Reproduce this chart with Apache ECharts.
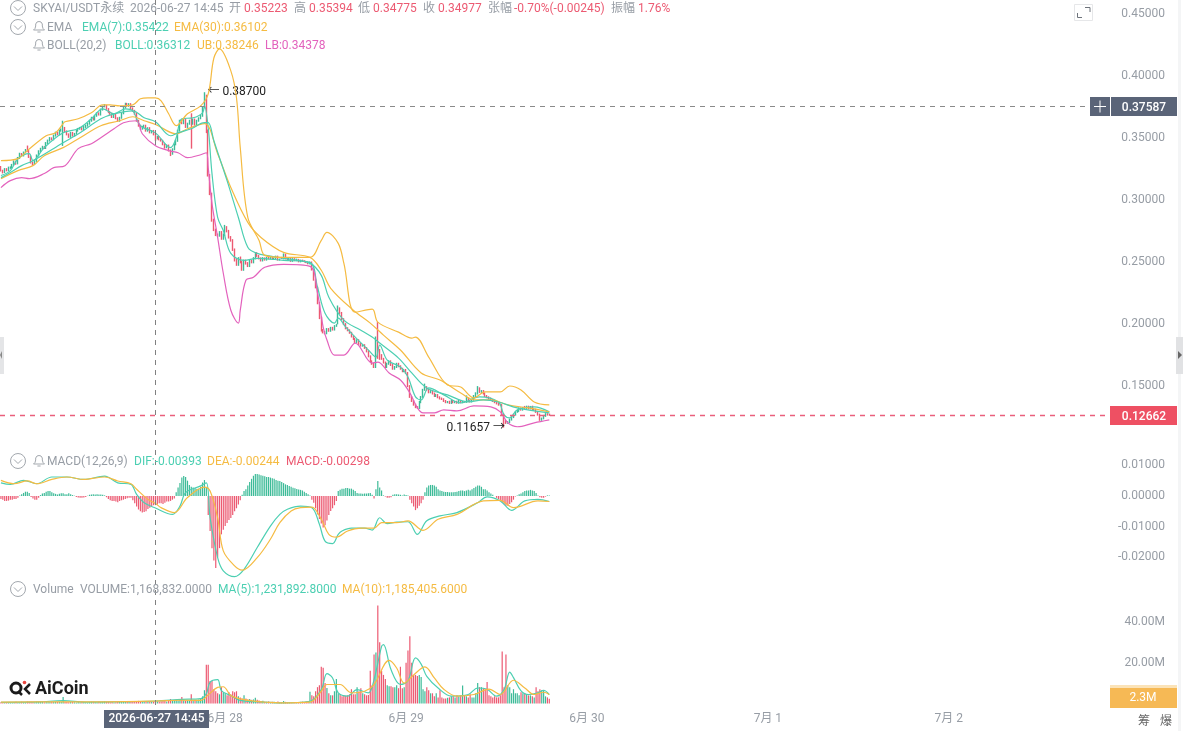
<!DOCTYPE html>
<html>
<head>
<meta charset="utf-8">
<style>html,body{margin:0;padding:0;background:#fff}#kline{width:1187px;height:731px}</style>
<script src="https://cdn.jsdelivr.net/npm/echarts@6/dist/echarts.min.js"></script>
</head>
<body>
<div id="kline"></div>
<script>
// SKYAI/USDT perpetual, 15-minute candles with EMA, BOLL, MACD and volume panes.
const opens = [
.3265,.3238,.3225,.3250,.3240,.3262,.3262,.3285,.3310,.3295,
.3340,.3374,.3360,.3385,.3405,.3399,.3350,.3302,.3290,.3315,
.3360,.3395,.3415,.3430,.3420,.3460,.3479,.3500,.3490,.3520,
.3545,.3530,.3560,.3570,.3583,.3555,.3530,.3510,.3543,.3520,
.3535,.3560,.3575,.3583,.3570,.3590,.3600,.3615,.3640,.3664,
.3650,.3680,.3700,.3690,.3730,.3755,.3760,.3735,.3710,.3696,
.3670,.3690,.3660,.3640,.3664,.3700,.3745,.3776,.3760,.3775,
.3740,.3720,.3696,.3640,.3600,.3575,.3590,.3600,.3560,.3580,
.3545,.3559,.35223,.3498,.3510,.3490,.3479,.3450,.3425,.3440,
.3400,.3374,.3410,.3450,.3479,.3560,.3640,.3620,.3650,.3590,
.3616,.3650,.3616,.3650,.3610,.3640,.3660,.3680,.3750,.3841,
.3560,.3198,.3050,.2836,.2760,.2720,.2715,.2740,.2690,.2720,
.2779,.2750,.2700,.2675,.2600,.2514,.2480,.2530,.2498,.2440,
.2510,.2490,.2470,.2510,.2498,.2530,.2570,.2550,.2530,.2514,
.2530,.2520,.2535,.2530,.2540,.2525,.2530,.2545,.2520,.2535,
.2530,.2560,.2530,.2520,.2530,.2510,.2525,.2515,.2520,.2505,
.2514,.2510,.2505,.2500,.2490,.2498,.2440,.2360,.2297,.2170,
.2050,.1951,.1935,.1927,.1960,.1945,.1970,.1955,.1985,.2008,
.2128,.2090,.2040,.2000,.1967,.1950,.1930,.1900,.1880,.1855,
.1870,.1840,.1825,.1830,.1807,.1780,.1740,.1700,.1680,.1654,
.1871,.1790,.1750,.1720,.1690,.1654,.1680,.1700,.1670,.1640,
.1654,.1680,.1660,.1640,.1620,.1630,.1606,.1500,.1413,.1380,
.1350,.1330,.1324,.1370,.1413,.1470,.1493,.1470,.1450,.1460,
.1440,.1420,.1429,.1410,.1400,.1395,.1380,.1370,.1375,.1364,
.1380,.1370,.1375,.1365,.1380,.1370,.1375,.1372,.1400,.1380,
.1375,.1390,.1420,.1440,.1480,.1453,.1460,.1440,.1420,.1410,
.1400,.1389,.1380,.1370,.1360,.1350,.1348,.1270,.1220,.1204,
.1210,.1230,.1250,.1270,.1292,.1300,.1320,.1310,.1325,.1324,
.1335,.1320,.1335,.1310,.1310,.1292,.1270,.1228,.1240,.1260,.1275,.1270];
const closes = [
.3238,.3225,.3250,.3240,.3262,.3262,.3285,.3310,.3295,.3340,
.3374,.3360,.3385,.3405,.3399,.3350,.3302,.3290,.3315,.3360,
.3395,.3415,.3430,.3420,.3460,.3479,.3500,.3490,.3520,.3545,
.3530,.3560,.3570,.3583,.3555,.3530,.3510,.3543,.3520,.3535,
.3560,.3575,.3583,.3570,.3590,.3600,.3615,.3640,.3664,.3650,
.3680,.3700,.3690,.3730,.3755,.3760,.3735,.3710,.3696,.3670,
.3690,.3660,.3640,.3664,.3700,.3745,.3776,.3760,.3775,.3740,
.3720,.3696,.3640,.3600,.3575,.3590,.3600,.3560,.3580,.3545,
.3559,.3530,.34977,.3510,.3490,.3479,.3450,.3425,.3440,.3400,
.3374,.3410,.3450,.3479,.3560,.3640,.3620,.3650,.3590,.3616,
.3640,.3616,.3650,.3610,.3640,.3660,.3680,.3750,.3841,.3560,
.3198,.3050,.2836,.2760,.2720,.2715,.2740,.2690,.2720,.2779,
.2750,.2700,.2675,.2600,.2514,.2480,.2530,.2498,.2440,.2510,
.2490,.2470,.2510,.2498,.2530,.2570,.2550,.2530,.2514,.2530,
.2520,.2535,.2530,.2540,.2525,.2530,.2545,.2520,.2535,.2530,
.2560,.2530,.2520,.2530,.2510,.2525,.2515,.2520,.2505,.2514,
.2510,.2505,.2500,.2490,.2498,.2440,.2360,.2297,.2170,.2050,
.1951,.1935,.1927,.1960,.1945,.1970,.1955,.1985,.2008,.2128,
.2090,.2040,.2000,.1967,.1950,.1930,.1900,.1880,.1855,.1870,
.1840,.1825,.1830,.1807,.1780,.1740,.1700,.1680,.1654,.1871,
.1790,.1750,.1720,.1690,.1654,.1680,.1700,.1670,.1640,.1654,
.1680,.1660,.1640,.1620,.1630,.1606,.1500,.1413,.1380,.1350,
.1330,.1324,.1370,.1413,.1470,.1493,.1470,.1450,.1460,.1440,
.1420,.1429,.1410,.1400,.1395,.1380,.1370,.1375,.1364,.1380,
.1370,.1375,.1365,.1380,.1370,.1375,.1372,.1400,.1380,.1375,
.1390,.1420,.1440,.1480,.1453,.1460,.1440,.1420,.1410,.1400,
.1389,.1380,.1370,.1360,.1350,.1348,.1270,.1220,.1204,.1210,
.1230,.1250,.1270,.1292,.1300,.1320,.1310,.1325,.1324,.1335,
.1320,.1335,.1310,.1310,.1292,.1270,.1228,.1240,.1260,.1275,.1270,.12662];
const highs = [
.3275,.3245,.3258,.3258,.3270,.3272,.3292,.3320,.3318,.3348,
.3382,.3380,.3392,.3412,.3440,.3405,.3358,.3310,.3322,.3368,
.3402,.3422,.3438,.3436,.3468,.3488,.3508,.3506,.3528,.3552,
.3552,.3568,.3578,.3640,.3590,.3562,.3538,.3550,.3550,.3542,
.3568,.3582,.3590,.3590,.3598,.3608,.3622,.3648,.3672,.3672,
.3688,.3708,.3708,.3738,.3762,.3775,.3768,.3742,.3718,.3704,
.3698,.3698,.3668,.3672,.3708,.3752,.3785,.3784,.3782,.3782,
.3748,.3728,.3704,.3648,.3608,.3598,.3608,.3608,.3588,.3588,
.3565,.3566,.35394,.3518,.3518,.3498,.3486,.3458,.3448,.3448,
.3408,.3418,.3458,.3486,.3568,.3648,.3650,.3658,.3658,.3624,
.3648,.3700,.3658,.3658,.3648,.3668,.3688,.3758,.3870,.3850,
.3570,.3210,.3060,.2850,.2770,.2730,.2750,.2750,.2730,.2800,
.2790,.2760,.2710,.2685,.2610,.2525,.2540,.2545,.2510,.2520,
.2520,.2500,.2520,.2520,.2540,.2580,.2580,.2558,.2538,.2540,
.2538,.2542,.2542,.2548,.2548,.2535,.2552,.2552,.2528,.2542,
.2570,.2568,.2538,.2536,.2536,.2532,.2532,.2528,.2526,.2520,
.2520,.2515,.2510,.2505,.2505,.2505,.2445,.2365,.2302,.2178,
.2060,.1960,.1945,.1968,.1968,.1978,.1978,.1992,.2000,.2150,
.2135,.2098,.2048,.2008,.1975,.1958,.1938,.1908,.1888,.1878,
.1878,.1848,.1838,.1838,.1815,.1788,.1748,.1708,.1688,.1900,
.2016,.1800,.1758,.1728,.1698,.1688,.1708,.1708,.1678,.1662,
.1688,.1688,.1668,.1648,.1638,.1638,.1614,.1508,.1420,.1388,
.1358,.1338,.1380,.1420,.1478,.1520,.1500,.1478,.1468,.1468,
.1448,.1436,.1436,.1418,.1408,.1402,.1388,.1380,.1382,.1388,
.1388,.1380,.1382,.1388,.1388,.1380,.1380,.1425,.1408,.1388,
.1398,.1428,.1450,.1500,.1490,.1468,.1468,.1448,.1428,.1418,
.1408,.1396,.1388,.1378,.1368,.1358,.1355,.1280,.1228,.1218,
.1238,.1258,.1278,.1298,.1308,.1328,.1328,.1332,.1340,.1342,
.1342,.1340,.1342,.1320,.1318,.1300,.1278,.1246,.1268,.1282,.1282,.1278];
const lows = [
.3230,.3215,.3218,.3232,.3232,.3252,.3255,.3278,.3285,.3288,
.3332,.3352,.3352,.3378,.3390,.3340,.3295,.3280,.3282,.3308,
.3352,.3388,.3408,.3412,.3412,.3452,.3472,.3482,.3482,.3512,
.3522,.3522,.3552,.3437,.3548,.3522,.3502,.3502,.3512,.3512,
.3528,.3552,.3568,.3562,.3562,.3582,.3592,.3608,.3632,.3642,
.3642,.3672,.3682,.3682,.3722,.3748,.3728,.3702,.3688,.3662,
.3662,.3652,.3632,.3632,.3656,.3692,.3738,.3752,.3752,.3732,
.3712,.3688,.3632,.3592,.3565,.3568,.3582,.3552,.3552,.3538,
.3538,.3522,.34775,.3490,.3482,.3472,.3442,.3415,.3418,.3392,
.3355,.3366,.3402,.3442,.3470,.3552,.3612,.3612,.3582,.3582,
.3608,.3415,.3608,.3600,.3602,.3632,.3652,.3672,.3740,.3540,
.3190,.3040,.2826,.2750,.2710,.2705,.2705,.2680,.2680,.2710,
.2740,.2690,.2665,.2590,.2505,.2470,.2470,.2490,.2430,.2430,
.2480,.2460,.2460,.2490,.2490,.2522,.2542,.2522,.2505,.2505,
.2512,.2512,.2522,.2522,.2518,.2518,.2522,.2512,.2512,.2525,
.2522,.2522,.2512,.2512,.2502,.2502,.2508,.2508,.2498,.2498,
.2502,.2498,.2492,.2482,.2482,.2432,.2350,.2288,.2160,.2040,
.1940,.1925,.1918,.1918,.1938,.1938,.1948,.1948,.1978,.1998,
.2082,.2032,.1992,.1958,.1942,.1922,.1892,.1872,.1848,.1848,
.1832,.1818,.1818,.1800,.1772,.1732,.1692,.1672,.1646,.1646,
.1720,.1712,.1712,.1682,.1646,.1646,.1672,.1662,.1632,.1632,
.1646,.1652,.1632,.1612,.1612,.1598,.1492,.1405,.1372,.1342,
.1322,.1316,.1316,.1362,.1405,.1462,.1462,.1442,.1442,.1432,
.1412,.1412,.1402,.1392,.1388,.1372,.1362,.1362,.1356,.1356,
.1362,.1362,.1358,.1358,.1362,.1362,.1365,.1365,.1372,.1368,
.1368,.1382,.1412,.1432,.1445,.1445,.1432,.1412,.1402,.1392,
.1382,.1372,.1362,.1352,.1342,.1340,.1260,.11657,.1195,.1196,
.1202,.1222,.1242,.1262,.1285,.1292,.1302,.1302,.1316,.1316,
.1312,.1312,.1302,.1302,.1284,.1262,.1220,.1220,.1232,.1252,.1262,.1260];
// Volume per candle, in millions.
const volumes = [
.6,.5,.4,.7,.5,.6,.4,.7,.8,.5,
.6,.9,.7,.6,1,.8,.9,.7,.6,.8,
.7,.9,.8,.6,.7,1.1,.8,.9,.7,.8,
.7,.9,.8,3.2,.9,.7,.6,.8,.7,.6,
.5,.7,.6,.8,.7,.6,.5,.7,.9,.8,
.7,.6,.8,.7,.9,1,.8,.7,.6,.7,
.5,.6,.7,.8,.7,.9,1.2,1,.8,.7,
.9,.8,1.2,1.3,1,.9,1.1,.9,1.2,1,
1,.9,1.168832,1.3,1,1.1,1.7,1.2,1,1.4,
2.2,1.3,1.5,1.7,1.4,2,3.2,1.6,1.4,1.5,
1.3,4.5,1.6,1.5,1.7,2,2.4,3.5,6.5,19,
19,11,11,7,6,5,4.5,8,5.5,5,
4,5.5,4.5,6,5.5,6,3.5,3,2.5,4,
2.5,2,2.2,1.8,2,2.8,1.8,1.5,1.2,1.3,
.9,.8,1,.7,.8,.9,.6,1,.7,.6,
1.2,.8,.6,.7,.5,.6,.7,.5,.6,.8,
.9,.7,1,1.2,5.8,4,3.5,6,8,9,
18,17.5,10,7.6,5,4,4,6,12,5,
4.5,3.5,4,3.8,4,4.5,7,4.5,4.5,8,
6,7.5,5,4.5,4,4.2,16,9,24,25,
48,30,16,14,12,9,8.5,8.5,8,8,
9,7.5,18,7.5,8,20,26,33,20,14,
14,13.5,14,13,7,6,8,6.5,5,5,
3.5,5,3,6.5,3,2.5,2.5,2.8,3,3.5,
3.5,3,4,3.5,4,8.8,4,3.5,3,4.5,
3,3,5,10,8,8,7.5,7,10.5,4,
3.5,3,3.5,3,3,4,25.5,8,24,9,
8,5,7,5,5,4,5.5,5,5,4.5,
4,4,3.5,3,8,6,7,6.5,6.5,3.5,3,2.3];
const macdHist = [
-.0010,-.0012,-.0016,-.0016,-.0015,-.0012,-.0012,-.0010,-.0010,-.0006,
.0002,.0006,.0010,.0014,.0014,.0010,-.0003,-.0008,-.0012,-.0012,
-.0006,.0003,.0008,.0010,.0014,.0016,.0016,.0012,.0009,.0007,
.0005,.0007,.0009,.0009,.0006,.0006,.0009,.0006,.0003,.0001,
-.0003,-.0005,-.0006,-.0006,-.0005,-.0003,.0001,.0004,.0005,.0006,
.0005,.0006,.0005,.0005,.0004,.0002,-.0004,-.0010,-.0014,-.0016,
-.0016,-.0018,-.0020,-.0016,-.0014,-.0012,-.0010,-.0007,-.0006,-.0006,
-.0014,-.0024,-.0034,-.0044,-.0050,-.0054,-.0052,-.0050,-.0042,-.0038,
-.0034,-.0030,-.00298,-.0028,-.0024,-.0024,-.0026,-.0022,-.0018,-.0018,
-.0016,-.0012,-.0008,.0012,.0028,.0042,.0060,.0065,.0062,.0050,
.0036,.0030,.0028,.0026,.0024,.0024,.0030,.0044,.0052,.0028,
-.0062,-.0114,-.0170,-.0210,-.0235,-.0200,-.0170,-.0125,-.0110,-.0098,
-.0088,-.0078,-.0072,-.0062,-.0050,-.0040,-.0028,-.0014,.0004,.0016,
.0022,.0034,.0046,.0056,.0066,.0072,.0072,.0070,.0068,.0066,
.0064,.0062,.0062,.0060,.0058,.0056,.0052,.0050,.0049,.0046,
.0042,.0038,.0036,.0033,.0030,.0027,.0025,.0023,.0021,.0020,
.0018,.0014,.0010,.0006,.0002,-.0012,-.0022,-.0040,-.0060,-.0075,
-.0090,-.0103,-.0095,-.0080,-.0062,-.0049,-.0040,-.0030,-.0016,.0016,
.0020,.0024,.0024,.0026,.0026,.0024,.0024,.0020,.0016,.0010,
.0008,.0008,.0007,.0008,.0008,.0009,.0010,.0004,-.0008,.0022,
.0049,.0028,.0018,.0002,-.0002,-.0006,-.0006,-.0004,.0004,.0006,
.0006,.0005,.0004,.0002,.0005,.0003,.0002,-.0012,-.0024,-.0034,
-.0046,-.0040,-.0032,-.0024,-.0012,.0012,.0028,.0034,.0036,.0036,
.0034,.0030,.0022,.0018,.0016,.0014,.0013,.0013,.0012,.0012,
.0012,.0013,.0014,.0016,.0018,.0018,.0016,.0018,.0020,.0018,
.0022,.0026,.0030,.0034,.0034,.0030,.0022,.0022,.0018,.0012,
.0008,.0004,.0000,-.0006,-.0010,-.0014,-.0020,-.0026,-.0032,-.0032,
-.0026,-.0020,-.0012,-.0002,.0002,.0006,.0008,.0012,.0016,.0018,
.0018,.0020,.0018,.0016,.0010,.0002,-.0004,-.0006,-.0006,-.0002,.0002,.0002];

// Indicator curves as [candle index, value] pairs.
const ema7 = [[0,.3198],[5,.3238],[9,.3334],[15,.3374],[17,.3318],[23,.3423],[33,.3543],[41,.3575],[48,.3656],[54,.3736],[60,.3696],[66,.3736],[70,.3720],[74,.3600],[82,.35422],[90,.3423],[93,.3503],[96,.3656],[102,.3664],[107,.3704],[108,.3760],[110,.3583],[112,.3214],[115,.2860],[118,.2755],[122,.2570],[129,.2514],[136,.2530],[150,.2514],[164,.2498],[168,.2297],[172,.2088],[177,.2008],[179,.2048],[183,.1975],[188,.1895],[195,.1791],[199,.1734],[201,.1831],[205,.1710],[212,.1654],[216,.1573],[220,.1413],[223,.1389],[227,.1485],[235,.1429],[244,.1364],[254,.1413],[264,.1372],[267,.1268],[270,.1244],[274,.1308],[283,.1332],[291,.1292]];
const ema30 = [[0,.3173],[9,.3238],[17,.3278],[23,.3358],[33,.3423],[42,.3503],[53,.3600],[63,.3640],[70,.3672],[76,.3640],[82,.36102],[93,.3535],[99,.3575],[108,.3616],[115,.3374],[122,.3101],[131,.2820],[138,.2699],[150,.2578],[164,.2538],[170,.2434],[175,.2289],[187,.2112],[196,.2008],[203,.1911],[212,.1791],[223,.1606],[233,.1549],[244,.1445],[251,.1389],[260,.1389],[269,.1348],[280,.1324],[291,.1292]];
const bollMid = [[0,.3181],[5,.3222],[11,.3278],[17,.3318],[33,.3463],[42,.3543],[53,.3656],[60,.3696],[70,.3720],[76,.3664],[82,.36312],[90,.3519],[94,.3543],[101,.3575],[108,.3624],[110,.3624],[113,.3479],[120,.3157],[126,.2860],[131,.2619],[136,.2570],[150,.2530],[164,.2490],[170,.2393],[174,.2217],[182,.2032],[191,.1951],[197,.1895],[201,.1847],[211,.1726],[218,.1606],[226,.1485],[237,.1429],[248,.1372],[256,.1389],[264,.1372],[274,.1324],[291,.1284]];
const bollUpper = [[0,.3318],[9,.3334],[14,.3399],[24,.3519],[29,.3543],[33,.3616],[34,.3632],[41,.3656],[48,.3704],[54,.3768],[58,.3768],[63,.3760],[70,.3768],[74,.3817],[78,.3825],[82,.38246],[85,.3801],[89,.3696],[93,.3600],[99,.3696],[106,.3760],[110,.3857],[113,.4146],[116,.4219],[122,.4042],[125,.3825],[127,.3423],[131,.2860],[137,.2675],[140,.2554],[150,.2538],[164,.2538],[170,.2675],[173,.2739],[179,.2651],[182,.2490],[188,.2096],[197,.2120],[200,.2016],[211,.1935],[218,.1887],[220,.1895],[227,.1734],[237,.1509],[244,.1493],[251,.1405],[257,.1453],[265,.1453],[270,.1501],[276,.1469],[283,.1372],[291,.1348]];
const bollLower = [[0,.3101],[5,.3157],[11,.3181],[15,.3173],[23,.3214],[28,.3262],[34,.3278],[41,.3415],[48,.3455],[53,.3503],[60,.3575],[65,.3624],[72,.3640],[75,.3535],[82,.34378],[89,.3399],[94,.3382],[99,.3342],[106,.3366],[109,.3382],[110,.3262],[112,.2972],[115,.2699],[118,.2410],[122,.2112],[126,.2008],[127,.2112],[130,.2353],[134,.2377],[140,.2458],[150,.2482],[164,.2466],[168,.2249],[171,.1975],[173,.1871],[177,.1750],[182,.1750],[188,.1847],[197,.1686],[200,.1694],[206,.1606],[212,.1549],[217,.1445],[221,.1324],[224,.1284],[230,.1284],[235,.1308],[242,.1300],[251,.1340],[260,.1332],[265,.1292],[269,.1204],[274,.1172],[283,.1204],[291,.1228]];
const macdDif = [[0,.0043],[5,.0038],[12,.0051],[19,.0040],[27,.0062],[35,.0062],[44,.0054],[55,.0065],[62,.0043],[69,.0038],[72,.0005],[76,-.0022],[82,-.00393],[91,-.0060],[95,-.0033],[98,.0011],[106,.0033],[109,.0043],[111,-.0071],[115,-.0201],[118,-.0244],[124,-.0263],[129,-.0239],[136,-.0168],[143,-.0098],[148,-.0060],[152,-.0043],[159,-.0033],[165,-.0038],[169,-.0092],[172,-.0147],[176,-.0155],[179,-.0125],[181,-.0114],[186,-.0105],[193,-.0105],[197,-.0111],[201,-.0071],[205,-.0090],[210,-.0085],[216,-.0084],[221,-.0125],[226,-.0081],[233,-.0065],[242,-.0054],[253,-.0022],[258,-.0003],[265,-.0016],[271,-.0047],[278,-.0016],[285,-.0011],[291,-.0018]];
const macdDea = [[0,.0051],[7,.0040],[14,.0049],[19,.0040],[27,.0054],[35,.0062],[44,.0054],[55,.0062],[62,.0049],[69,.0040],[72,.0022],[78,-.0011],[82,-.00244],[85,-.0038],[92,-.0054],[99,-.0005],[108,.0029],[111,.0016],[115,-.0071],[118,-.0179],[124,-.0228],[128,-.0242],[136,-.0201],[143,-.0141],[148,-.0087],[154,-.0049],[159,-.0038],[165,-.0036],[170,-.0076],[174,-.0125],[178,-.0134],[184,-.0114],[191,-.0105],[198,-.0105],[202,-.0087],[210,-.0087],[216,-.0081],[224,-.0112],[232,-.0076],[242,-.0060],[256,-.0016],[265,-.0014],[272,-.0038],[285,-.0016],[291,-.0018]];
const volMa5 = [[0,.6],[20,.8],[33,1.4],[45,.7],[66,.9],[82,1.2318928],[96,2],[106,2.4],[109,4.9],[111,10.5],[115,11.7],[117,6.3],[122,3.9],[127,1.5],[141,.6],[148,.3],[164,1.1],[170,6.8],[173,14.6],[176,12.5],[179,5.2],[184,3.6],[189,6.8],[195,5.2],[198,11.7],[202,28],[203,28.8],[207,16.6],[212,9.3],[216,11],[220,22.3],[223,19.3],[226,13.3],[232,7.6],[239,3.6],[248,4.4],[253,7.6],[258,7],[263,3.6],[267,6.8],[270,15.4],[272,12.7],[276,6.2],[280,4.4],[285,5.2],[288,6.5],[291,4.4]];
const volMa10 = [[0,.7],[30,.8],[50,.8],[82,1.1854056],[96,1.6],[106,1.5],[110,4.2],[115,7.9],[118,8.2],[122,3.9],[127,2.3],[136,1],[141,.6],[148,.3],[164,.7],[170,6],[173,9.3],[180,9.3],[186,5.2],[193,6],[198,9.3],[206,21.1],[210,17.4],[214,10],[219,14],[225,17.9],[230,12.5],[235,7],[242,3.6],[251,4.4],[259,7],[265,4.4],[272,11.4],[278,7.6],[283,4.4],[288,5.5],[291,4.4]];

// Time slots on the shared x axis; the first slot opens 2026-06-26 18:15.
const slotCount = 588;
const dayTickLabels = {119:'6月 28',215:'6月 29',311:'6月 30',407:'7月 1',503:'7月 2'};
const crosshairIndex = 82;
const crosshairPrice = 0.37587;
const lastPrice = 0.12662;
const priceHigh = {index:108, value:0.387};
const priceLow = {index:267, value:0.11657};
const lastVolumeLabel = '2.3M';

const UP = '#3dbb98', DOWN = '#ec5a72', TEAL = '#4ccfb2', GOLD = '#f5bb42', PINK = '#e362bd';
const GREY = '#979da5';
const FONT = 'Roboto, "Noto Sans CJK SC", sans-serif';
const slots = Array.from({length: slotCount}, (_, i) => i);

const xAxisBase = {type: 'category', data: slots, boundaryGap: true, axisLine: {show: false}, axisTick: {show: false}, axisLabel: {show: false}, splitLine: {show: false}};
const yAxisBase = {
  position: 'right', scale: false, axisLine: {show: false}, axisTick: {show: false}, splitLine: {show: false},
  axisLabel: {inside: false, margin: 57, align: 'right', color: GREY, fontSize: 12, fontFamily: FONT, showMinLabel: false, showMaxLabel: false, hideOverlap: false, padding: [2, 0, 0, 0]}
};
const curve = (name, data, color, gridIndex) => ({
  name, type: 'line', data, xAxisIndex: gridIndex, yAxisIndex: gridIndex, smooth: 0.35,
  showSymbol: false, silent: true, animation: false, z: 5, lineStyle: {color, width: 1.2}
});

const chart = echarts.init(document.getElementById('kline'), null, {renderer: 'canvas'});
chart.setOption({
  animation: false,
  backgroundColor: '#fff',
  grid: [
    {left: 0, width: 1108, top: 1.7, height: 446.4},
    {left: 0, width: 1108, top: 450, height: 138},
    {left: 0, width: 1108, top: 581, height: 122.5}
  ],
  xAxis: [
    Object.assign({}, xAxisBase, {gridIndex: 0}),
    Object.assign({}, xAxisBase, {gridIndex: 1}),
    Object.assign({}, xAxisBase, {gridIndex: 2, axisLabel: {
      show: true, margin: 9, color: GREY, fontSize: 12, fontFamily: FONT,
      interval: (i) => dayTickLabels[i] !== undefined,
      formatter: (v) => dayTickLabels[v] || ''
    }})
  ],
  yAxis: [
    Object.assign({}, yAxisBase, {gridIndex: 0, type: 'value', min: 0.10, max: 0.46, interval: 0.05,
      axisLabel: Object.assign({}, yAxisBase.axisLabel, {formatter: (v) => v.toFixed(5), padding: [3, 0, 0, 0]})}),
    Object.assign({}, yAxisBase, {gridIndex: 1, type: 'value', min: -0.03, max: 0.015, interval: 0.01,
      axisLabel: Object.assign({}, yAxisBase.axisLabel, {formatter: (v) => v.toFixed(5)})}),
    Object.assign({}, yAxisBase, {gridIndex: 2, type: 'value', min: 0, max: 60, interval: 20,
      axisLabel: Object.assign({}, yAxisBase.axisLabel, {formatter: (v) => v.toFixed(2) + 'M'})})
  ],
  series: [
    {
      name: 'K', type: 'candlestick', xAxisIndex: 0, yAxisIndex: 0, barWidth: 1, silent: true, large: false, animation: false,
      data: opens.map((o, i) => [o, closes[i], lows[i], highs[i]]),
      itemStyle: {color: UP, color0: DOWN, borderColor: UP, borderColor0: DOWN, borderWidth: 1.4},
      markPoint: {
        symbol: 'circle', symbolSize: 0, silent: true, animation: false,
        data: [
          {coord: [priceHigh.index, priceHigh.value], label: {show: true, position: 'right', distance: 3, offset: [0, 0], formatter: '← ' + priceHigh.value.toFixed(5), color: '#222', fontSize: 12, fontFamily: FONT}},
          {coord: [priceLow.index, priceLow.value], label: {show: true, position: 'left', distance: 3, offset: [4, 0], formatter: priceLow.value.toFixed(5) + ' →', color: '#222', fontSize: 12, fontFamily: FONT}}
        ]
      }
    },
    curve('EMA7', ema7, TEAL, 0),
    curve('EMA30', ema30, GOLD, 0),
    curve('BOLL', bollMid, TEAL, 0),
    curve('UB', bollUpper, GOLD, 0),
    curve('LB', bollLower, PINK, 0),
    {
      name: 'MACD', type: 'bar', xAxisIndex: 1, yAxisIndex: 1, barWidth: 1.2, silent: true, animation: false,
      data: macdHist.map((v) => ({value: v, itemStyle: {color: v >= 0 ? UP : DOWN}}))
    },
    curve('DIF', macdDif, TEAL, 1),
    curve('DEA', macdDea, GOLD, 1),
    {
      name: 'Volume', type: 'bar', xAxisIndex: 2, yAxisIndex: 2, barWidth: 1.2, silent: true, animation: false,
      data: volumes.map((v, i) => ({value: v, itemStyle: {color: closes[i] >= opens[i] ? UP : DOWN}}))
    },
    curve('MA5', volMa5, TEAL, 2),
    curve('MA10', volMa10, GOLD, 2)
  ]
});

// Overlay furniture: guides and tags follow the chart's own scales.
const priceY = (v) => chart.convertToPixel({xAxisIndex: 0, yAxisIndex: 0}, [0, v])[1];
const slotX = (i) => chart.convertToPixel({xAxisIndex: 0, yAxisIndex: 0}, [i, 0.2])[0];
const crossX = Math.round(slotX(crosshairIndex)) + 0.5;
const crossY = Math.round(priceY(crosshairPrice)) + 0.5;
const lastY = Math.round(priceY(lastPrice)) + 0.5;

const text = (x, y, t, fill, extra) => ({type: 'text', z: 20, silent: true, x, y: y + 1,
  style: Object.assign({text: t, fill: fill || GREY, font: '12px ' + FONT, textVerticalAlign: 'middle'}, extra || {})});
const dashed = (x1, y1, x2, y2, stroke, width) => ({type: 'line', z: 10, silent: true,
  shape: {x1, y1, x2, y2}, style: {stroke, lineWidth: width || 1, lineDash: [5, 5]}});
const box = (x, y, width, height, fill) => ({type: 'rect', z: 15, silent: true, shape: {x, y, width, height}, style: {fill}});
const foldIcon = (cx, cy) => [
  {type: 'circle', z: 20, silent: true, shape: {cx, cy, r: 7.5}, style: {fill: '#fff', stroke: '#a3a8ae', lineWidth: 1}},
  {type: 'polyline', z: 21, silent: true, shape: {points: [[cx - 4, cy - 1.5], [cx, cy + 2.5], [cx + 4, cy - 1.5]]}, style: {fill: 'none', stroke: '#a3a8ae', lineWidth: 1}}
];
const bellIcon = (cx, cy) => [
  {type: 'polyline', z: 20, silent: true, shape: {points: [
    [cx - 5.5, cy + 3], [cx - 4, cy + 1.5], [cx - 3.3, cy - 1], [cx - 3.3, cy - 3], [cx - 2, cy - 5], [cx, cy - 5.5],
    [cx + 2, cy - 5], [cx + 3.3, cy - 3], [cx + 3.3, cy - 1], [cx + 4, cy + 1.5], [cx + 5.5, cy + 3], [cx - 5.5, cy + 3]
  ]}, style: {fill: 'none', stroke: '#a3a8ae', lineWidth: 1}},
  {type: 'line', z: 20, silent: true, shape: {x1: cx - 1.6, y1: cy + 5, x2: cx + 1.6, y2: cy + 5}, style: {stroke: '#a3a8ae', lineWidth: 1}}
];

chart.setOption({graphic: [
  dashed(0, crossY, 1088, crossY, '#8a8a8a'),
  dashed(0, lastY, 1108, lastY, '#ea5f7c', 1.4),
  dashed(crossX, 0, crossX, 708, '#808080'),

  // Right edge and side handles
  box(1178, 0, 3, 731, '#f4f5f6'),
  box(0, 337, 4, 37, '#e4e5e7'),
  box(1176, 337, 7, 37, '#e1e2e4'),
  {type: 'polygon', z: 16, silent: true, shape: {points: [[1178, 351], [1182, 355], [1178, 359]]}, style: {fill: '#666'}},
  {type: 'polygon', z: 16, silent: true, shape: {points: [[2, 351], [0, 355], [2, 359]]}, style: {fill: '#888'}},

  // Header rows
  ...foldIcon(18, 8),
  text(33, 8, 'SKYAI/USDT永续'),
  text(130, 8, '2026-06-27 14:45'),
  text(229, 8, '开'), text(244, 8, '0.35223', DOWN),
  text(294, 8, '高'), text(309, 8, '0.35394', DOWN),
  text(358, 8, '低'), text(373, 8, '0.34775', DOWN),
  text(423, 8, '收'), text(438, 8, '0.34977', DOWN),
  text(488, 8, '张幅'), text(514, 8, '-0.70%(-0.00245)', DOWN),
  text(611, 8, '振幅'), text(638, 8, '1.76%', DOWN),
  ...foldIcon(18, 27),
  ...bellIcon(39, 27), text(47, 27, 'EMA'),
  text(82, 27, 'EMA(7):0.35422', TEAL), text(174, 27, 'EMA(30):0.36102', GOLD),
  ...bellIcon(39, 45), text(47, 45, 'BOLL(20,2)'),
  text(115, 45, 'BOLL:0.36312', TEAL), text(197, 45, 'UB:0.38246', GOLD), text(265, 45, 'LB:0.34378', PINK),

  ...foldIcon(18, 461),
  ...bellIcon(39, 461), text(47, 461, 'MACD(12,26,9)'),
  text(134, 461, 'DIF:-0.00393', TEAL), text(207, 461, 'DEA:-0.00244', GOLD), text(286, 461, 'MACD:-0.00298', DOWN),

  ...foldIcon(18, 589),
  text(33, 589, 'Volume'), text(80, 589, 'VOLUME:1,168,832.0000'),
  text(218, 589, 'MA(5):1,231,892.8000', TEAL), text(342, 589, 'MA(10):1,185,405.6000', GOLD),

  // Fullscreen button
  {type: 'rect', z: 20, silent: true, shape: {x: 1074.5, y: 4.5, width: 18, height: 16}, style: {fill: '#fff', stroke: '#e6e7e9', lineWidth: 1}},
  {type: 'polyline', z: 21, silent: true, shape: {points: [[1085, 7.5], [1090, 7.5], [1090, 12]]}, style: {fill: 'none', stroke: '#6d737b', lineWidth: 1}},
  {type: 'polyline', z: 21, silent: true, shape: {points: [[1077.5, 13], [1077.5, 17.5], [1082, 17.5]]}, style: {fill: 'none', stroke: '#6d737b', lineWidth: 1}},

  // Crosshair price tag
  box(1090, crossY - 9.5, 20, 19, '#5a6478'),
  {type: 'line', z: 16, silent: true, shape: {x1: 1094, y1: crossY, x2: 1106, y2: crossY}, style: {stroke: '#fff', lineWidth: 1}},
  {type: 'line', z: 16, silent: true, shape: {x1: 1100, y1: crossY - 6, x2: 1100, y2: crossY + 6}, style: {stroke: '#fff', lineWidth: 1}},
  box(1111, crossY - 9.5, 66, 19, '#5a6478'),
  text(1144, crossY, crosshairPrice.toFixed(5), '#fff', {textAlign: 'center', font: '500 12px ' + FONT}),

  // Last price tag
  box(1110, lastY - 9.5, 67, 19, '#ee5063'),
  text(1144, lastY, lastPrice.toFixed(5), '#fff', {textAlign: 'center', font: '500 12px ' + FONT}),

  // Last volume tag
  box(1110, 688, 67, 20, '#f6b955'),
  box(1110, 685, 67, 3, '#fbe3b8'),
  text(1143, 697, lastVolumeLabel, '#fff', {textAlign: 'center'}),

  // Crosshair time tag
  box(104, 710, 105, 18, '#5a6478'),
  text(156.5, 718, '2026-06-27 14:45', '#fff', {textAlign: 'center', font: '500 12px ' + FONT}),

  // Bottom corner actions
  text(1138, 721, '筹', '#666'), text(1160, 721, '爆', '#666'),

  // Brand mark
  {type: 'arc', z: 20, silent: true, shape: {cx: 16, cy: 688, r: 5, startAngle: 0, endAngle: Math.PI * 2}, style: {fill: 'none', stroke: '#1c1c1c', lineWidth: 3}},
  {type: 'line', z: 20, silent: true, shape: {x1: 18, y1: 691, x2: 22, y2: 695}, style: {stroke: '#1c1c1c', lineWidth: 2.5}},
  {type: 'polyline', z: 20, silent: true, shape: {points: [[30, 684], [25, 689], [30, 694]]}, style: {fill: 'none', stroke: '#1c1c1c', lineWidth: 2.5}},
  {type: 'circle', z: 21, silent: true, shape: {cx: 24.5, cy: 682.5, r: 1.8}, style: {fill: '#e8463f'}},
  text(35, 688, 'AiCoin', '#1c1c1c', {font: 'bold 18px ' + FONT})
]});
</script>
</body>
</html>
